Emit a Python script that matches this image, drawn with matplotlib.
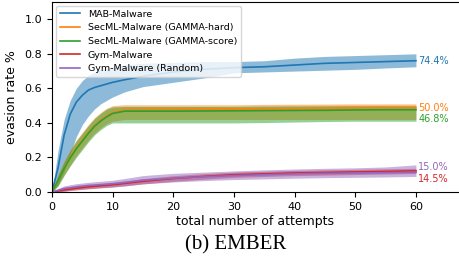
import matplotlib
matplotlib.use('Agg')
import matplotlib.pyplot as plt

# 数据
x = [0, 1, 2, 3, 4, 5, 6, 7, 8, 9, 10, 12, 15, 20, 25, 30, 35, 40, 45, 50, 55, 60]

mab_mean = [0, 0.14, 0.33, 0.45, 0.52, 0.56, 0.59, 0.605, 0.615, 0.625, 0.635, 0.65, 0.67, 0.695,
            0.71, 0.72, 0.725, 0.735, 0.745, 0.75, 0.755, 0.76]
mab_lo = [0, 0.04, 0.12, 0.22, 0.32, 0.39, 0.44, 0.48, 0.51, 0.53, 0.55, 0.58, 0.61, 0.635,
          0.66, 0.69, 0.695, 0.70, 0.705, 0.71, 0.718, 0.725]
mab_hi = [0, 0.24, 0.42, 0.53, 0.60, 0.645, 0.675, 0.695, 0.71, 0.718, 0.725, 0.735, 0.745, 0.75,
          0.755, 0.755, 0.76, 0.775, 0.785, 0.79, 0.795, 0.80]

hard_mean = [0, 0.07, 0.14, 0.20, 0.255, 0.30, 0.345, 0.385, 0.415, 0.44, 0.46, 0.475, 0.477, 0.478,
             0.479, 0.48, 0.482, 0.483, 0.485, 0.487, 0.488, 0.488]
hard_lo = [0, 0.04, 0.10, 0.155, 0.21, 0.255, 0.30, 0.34, 0.37, 0.395, 0.41, 0.42, 0.42, 0.42,
           0.42, 0.42, 0.42, 0.42, 0.42, 0.42, 0.42, 0.42]
hard_hi = [0, 0.10, 0.18, 0.245, 0.30, 0.345, 0.39, 0.43, 0.46, 0.485, 0.50, 0.505, 0.505, 0.505,
           0.505, 0.505, 0.507, 0.508, 0.509, 0.51, 0.51, 0.51]

score_mean = [0, 0.068, 0.137, 0.197, 0.25, 0.295, 0.34, 0.38, 0.41, 0.435, 0.455, 0.468, 0.468, 0.468,
              0.469, 0.47, 0.471, 0.472, 0.473, 0.475, 0.476, 0.476]
score_lo = [0, 0.035, 0.095, 0.15, 0.20, 0.245, 0.29, 0.33, 0.36, 0.385, 0.40, 0.40, 0.40, 0.40,
            0.40, 0.40, 0.402, 0.405, 0.408, 0.41, 0.41, 0.41]
score_hi = [0, 0.10, 0.175, 0.24, 0.295, 0.34, 0.385, 0.425, 0.455, 0.48, 0.492, 0.495, 0.495, 0.495,
            0.495, 0.495, 0.497, 0.498, 0.499, 0.50, 0.50, 0.50]

gym_mean = [0, 0.006, 0.012, 0.017, 0.022, 0.026, 0.03, 0.033, 0.036, 0.039, 0.042, 0.05, 0.062, 0.078,
            0.09, 0.10, 0.105, 0.11, 0.113, 0.116, 0.119, 0.122]
gym_lo = [0, 0.0, 0.004, 0.008, 0.012, 0.015, 0.018, 0.021, 0.024, 0.026, 0.029, 0.036, 0.047, 0.062,
          0.074, 0.085, 0.09, 0.095, 0.098, 0.101, 0.104, 0.107]
gym_hi = [0, 0.012, 0.02, 0.026, 0.032, 0.037, 0.042, 0.045, 0.048, 0.052, 0.055, 0.064, 0.077, 0.094,
          0.106, 0.115, 0.12, 0.125, 0.128, 0.131, 0.134, 0.137]

rnd_mean = [0, 0.01, 0.02, 0.025, 0.03, 0.034, 0.038, 0.04, 0.043, 0.045, 0.048, 0.055, 0.068, 0.08,
            0.088, 0.095, 0.1, 0.105, 0.108, 0.11, 0.112, 0.115]
rnd_lo = [0, 0.0, 0.005, 0.01, 0.014, 0.017, 0.02, 0.022, 0.025, 0.027, 0.029, 0.035, 0.047, 0.058,
          0.066, 0.072, 0.076, 0.08, 0.083, 0.085, 0.087, 0.09]
rnd_hi = [0, 0.02, 0.035, 0.042, 0.048, 0.052, 0.056, 0.059, 0.062, 0.065, 0.068, 0.078, 0.095, 0.108,
          0.115, 0.122, 0.128, 0.133, 0.137, 0.14, 0.145, 0.157]

series = [
    ('MAB-Malware', mab_mean, mab_lo, mab_hi, 'tab:blue'),
    ('SecML-Malware (GAMMA-hard)', hard_mean, hard_lo, hard_hi, 'tab:orange'),
    ('SecML-Malware (GAMMA-score)', score_mean, score_lo, score_hi, 'tab:green'),
    ('Gym-Malware', gym_mean, gym_lo, gym_hi, 'tab:red'),
    ('Gym-Malware (Random)', rnd_mean, rnd_lo, rnd_hi, 'tab:purple'),
]

# 末端标注
final_labels = ['74.4%', '50.0%', '46.8%', '14.5%', '15.0%']
label_y = [0.76, 0.489, 0.42, 0.075, 0.143]

fig = plt.figure(figsize=(4.59, 2.61), dpi=100)
ax = fig.add_axes([52 / 459, 69 / 261, 407 / 459, 190 / 261])

for name, m, lo, hi, c in series:
    ax.plot(x, m, color=c, lw=1.2, label=name)
    ax.fill_between(x, lo, hi, color=c, alpha=0.5, lw=0)

for (name, m, lo, hi, c), txt, yy in zip(series, final_labels, label_y):
    ax.text(60.4, yy, txt, color=c, fontsize=7, va='center', ha='left')

ax.set_xlim(0, 67.1)
ax.set_ylim(0, 1.1)
ax.set_xticks([0, 10, 20, 30, 40, 50, 60])
ax.set_yticks([0.0, 0.2, 0.4, 0.6, 0.8, 1.0])
ax.tick_params(labelsize=8)
ax.spines['right'].set_visible(False)
ax.set_xlabel('total number of attempts', fontsize=9, labelpad=2)
ax.set_ylabel('evasion rate %', fontsize=9, labelpad=5)
ax.legend(loc='upper left', fontsize=6.8, labelspacing=0.5, handlelength=2.2,
          borderaxespad=0.4)

fig.text(0.513, 0.061, '(b) EMBER', family='Liberation Serif', fontsize=15,
         ha='center', va='center')

fig.savefig('out.png', dpi=100)
